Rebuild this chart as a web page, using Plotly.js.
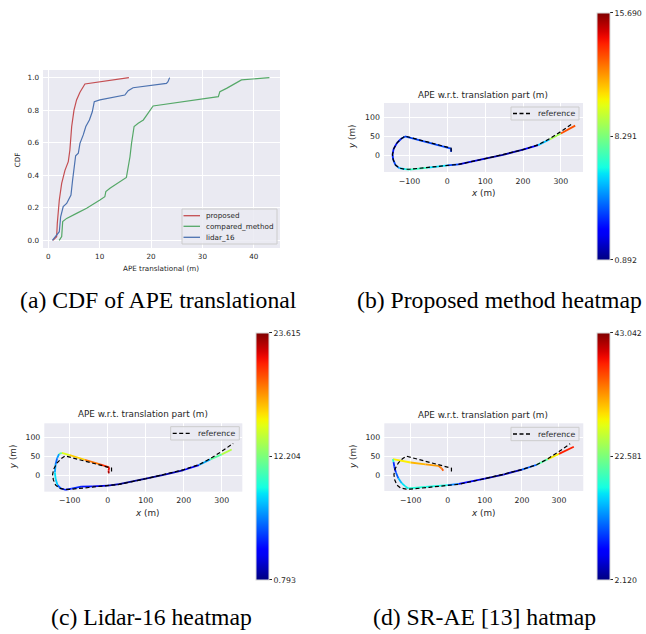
<!DOCTYPE html>
<html>
<head>
<meta charset="utf-8">
<script src="https://cdn.plot.ly/plotly-3.0.1.min.js"></script>
<style>html,body{margin:0;padding:0;background:#fff;}#chart{width:646px;height:634px;}</style>
</head>
<body>
<div id="chart"></div>
<script>
// ---------- (a) CDF data ----------
const cdfProposedX = [0.892,1.62,1.75,2.14,2.6,3.24,3.89,4.2,4.55,5.0,5.5,6.16,7.13,15.69];
const cdfProposedY = [0,0.023,0.105,0.248,0.35,0.43,0.484,0.555,0.70,0.80,0.863,0.91,0.961,1.0];
const cdfComparedX = [2.12,2.6,2.8,3.57,5.5,7.46,10.05,11.0,11.2,12.0,15.2,15.9,16.2,16.7,17.5,18.5,19.4,20.4,32.1,33.1,33.4,34.7,37.6,43.042];
const cdfComparedY = [0,0.023,0.115,0.135,0.166,0.197,0.248,0.268,0.30,0.32,0.387,0.514,0.596,0.70,0.72,0.74,0.78,0.826,0.879,0.883,0.914,0.934,0.986,1.0];
const cdfLidarX = [0.793,1.62,2.14,2.4,2.9,3.57,4.41,4.73,5.0,5.32,5.84,6.16,6.8,7.3,8.0,8.56,8.95,10.05,14.9,15.55,16.5,23.0,23.3,23.615];
const cdfLidarY = [0,0.033,0.053,0.145,0.207,0.227,0.279,0.371,0.453,0.52,0.535,0.596,0.648,0.70,0.74,0.79,0.852,0.863,0.893,0.92,0.938,0.965,0.975,1.0];
const cdfNames = ['proposed','compared_method','lidar_16'];

// ---------- reference trajectory ----------
const refX = [10,10,-112,-122,-133,-142,-145,-143,-137,-127,-112,-100,-50,0,30,100,150,200,240,270,300,330];
const refY = [10,19,51,44,33,17,2,-12,-26,-34,-37,-37,-32,-27,-24,-9,2,15,28,44,63,84];
const refName = 'reference';

// ---------- (b) proposed ----------
const propX = [10,10,-112,-122,-133,-142,-145,-143,-137,-127,-112,-100,-50,0,30,100,150,200,240,270,300,338];
const propY = [9,18,50,44,33,17,2,-12,-26,-34,-37,-38,-33,-27,-24,-9,2,15,27,42,58,79];
const propE = [3.5,3.5,4.0,3.5,3.0,3.0,3.0,3.5,4.0,5.0,6.5,7.0,7.0,5.0,2.5,1.8,0.892,2.0,3.5,7.5,10.5,15.69];
const propTicks = ['0.892','8.291','15.690'];

// ---------- (c) lidar-16 ----------
const lidX = [3,2,4,-20,-60,-100,-121,-128,-133,-137,-139,-137,-132,-124,-112,-95,-70,-40,0,30,100,150,200,240,270,300,326];
const lidY = [5,12,21,29,41,53,59,56,45,30,8,-10,-26,-34,-38,-35,-30,-29,-27,-23,-9,2,14,27,42,55,68];
const lidE = [23.615,22,21,20,17.5,15.5,14.5,9,5.5,6.5,8,9.5,7,4.5,4,4.5,4.5,3.5,2,1.5,0.793,1.5,2,5,10,12.5,15];
const lidTicks = ['0.793','12.204','23.615'];

// ---------- (d) SR-AE ----------
const sraeX = [-12,-16,-25,-60,-100,-148,-146,-144,-140,-133,-124,-115,-106,-60,0,30,100,150,200,240,270,300,340];
const sraeY = [12,18,25,29,34,43,35,23,8,-8,-21,-29,-35,-31,-26,-23,-9,2,15,28,43,57,76];
const sraeE = [36,35,33,32,31,27,10,8,9,13,16,17,17,19,16,9,4,2.12,6,16,25,33,43.042];
const sraeTicks = ['2.120','22.581','43.042'];

const titleText = 'APE w.r.t. translation part (m)';
const captions = ['(a) CDF of APE translational','(b) Proposed method heatmap','(c) Lidar-16 heatmap','(d) SR-AE [13] hatmap'];

// ---------- helpers ----------
const W=646,H=634;
const px=v=>v/W, py=v=>1-v/H;
function interp(t, xs, ys){
  for(let i=0;i<xs.length-1;i++){
    if(t<=xs[i+1]){const f=(t-xs[i])/(xs[i+1]-xs[i]);return ys[i]+f*(ys[i+1]-ys[i]);}
  }
  return ys[ys.length-1];
}
function jet(t){
  t=Math.max(0,Math.min(1,t));
  const r=interp(t,[0,0.35,0.66,0.89,1],[0,0,1,1,0.5]);
  const g=interp(t,[0,0.125,0.375,0.64,0.91,1],[0,0,1,1,0,0]);
  const b=interp(t,[0,0.11,0.34,0.65,1],[0.5,1,1,0,0]);
  return 'rgb('+Math.round(r*255)+','+Math.round(g*255)+','+Math.round(b*255)+')';
}
const jetScale=[];
for(let i=0;i<=40;i++){jetScale.push([i/40,jet(i/40)]);}

const FONT='DejaVu Sans';
const TXT='#262626';
const traces=[];
const cdfColors=['#c44e52','#55a868','#4c72b0'];
[[cdfProposedX,cdfProposedY],[cdfComparedX,cdfComparedY],[cdfLidarX,cdfLidarY]].forEach((d,i)=>{
  traces.push({x:d[0],y:d[1],mode:'lines',name:cdfNames[i],line:{color:cdfColors[i],width:1.2},xaxis:'x',yaxis:'y',showlegend:false,hoverinfo:'skip'});
});

function addHeat(tx,ty,te,ax,ay,cax){
  const mn=Math.min(...te), mx=Math.max(...te);
  for(let i=0;i<tx.length-1;i++){
    const v=((te[i]+te[i+1])/2-mn)/(mx-mn);
    traces.push({x:[tx[i],tx[i+1]],y:[ty[i],ty[i+1]],mode:'lines',line:{color:jet(v),width:1.8},xaxis:ax,yaxis:ay,showlegend:false,hoverinfo:'skip'});
  }
  traces.push({x:refX,y:refY,mode:'lines',name:refName,line:{color:'#000',width:1.2,dash:'4px,2.5px'},xaxis:ax,yaxis:ay,showlegend:false,hoverinfo:'skip'});
  traces.push({x:tx,y:ty,mode:'markers',marker:{color:te,coloraxis:cax,size:1,opacity:0},xaxis:ax,yaxis:ay,showlegend:false,hoverinfo:'skip'});
}
addHeat(propX,propY,propE,'x2','y2','coloraxis');
addHeat(lidX,lidY,lidE,'x3','y3','coloraxis2');
addHeat(sraeX,sraeY,sraeE,'x4','y4','coloraxis3');

function axBase(extra){
  return Object.assign({showgrid:true,gridcolor:'#ffffff',gridwidth:1,zeroline:false,showline:false,ticks:'',
    tickfont:{family:FONT,size:7.8,color:TXT},ticklabelstandoff:3,fixedrange:true},extra);
}
function cbar(vals,txt,x,y){
  return {cmin:vals[0],cmax:vals[1],colorscale:jetScale,colorbar:{
    x:x,xanchor:'left',y:y,yanchor:'middle',len:0.39,lenmode:'fraction',thickness:13,xpad:0,ypad:0,
    outlinewidth:1,outlinecolor:'#d8d8d8',ticks:'outside',ticklen:3,tickcolor:TXT,tickwidth:1,
    tickvals:[vals[0],(vals[0]+vals[1])/2,vals[1]],ticktext:txt,tickfont:{family:FONT,size:7.8,color:TXT}}};
}
function ann(text,x,y,size,angle,font,xa){
  return {text:text,x:x,y:y,xref:'paper',yref:'paper',xanchor:xa||'center',yanchor:'middle',showarrow:false,
    textangle:angle||0,font:{family:font||FONT,size:size,color:font?'#000':TXT}};
}

// legend boxes drawn in pixel layout positions
const shapes=[], annotations=[];
function legendBox(x0,y0,x1,y1){
  shapes.push({type:'rect',xref:'paper',yref:'paper',x0:px(x0),x1:px(x1),y0:py(y1),y1:py(y0),
    fillcolor:'rgba(234,234,242,0.85)',line:{color:'#cccccc',width:1}});
}
function legendItem(lx0,lx1,ly,tx,color,dash,label,size){
  shapes.push({type:'line',xref:'paper',yref:'paper',x0:px(lx0),x1:px(lx1),y0:py(ly),y1:py(ly),
    line:{color:color,width:1.3,dash:dash||'solid'}});
  annotations.push(ann(label,px(tx),py(ly),size,0,null,'left'));
}
legendBox(182,209,277,244);
legendItem(183.5,200,215.7,204,cdfColors[0],null,cdfNames[0],7.2);
legendItem(183.5,200,226.3,204,cdfColors[1],null,cdfNames[1],7.2);
legendItem(183.5,200,237.3,204,cdfColors[2],null,cdfNames[2],7.2);
legendBox(511,107,579,120);
legendItem(513,530,113.5,536,'#000','4px,2.5px',refName,7.8);
legendBox(170.7,426.7,239.3,440);
legendItem(172.7,190,433.3,195.7,'#000','4px,2.5px',refName,7.8);
legendBox(511,427.3,579,440.7);
legendItem(513,530.7,434,536,'#000','4px,2.5px',refName,7.8);

annotations.push(
  ann('CDF',0.0268,0.7476,7.2,-90),
  ann('APE translational (m)',0.2497,0.5768,7.2),
  ann(titleText,0.7477,0.8502,8.8),
  ann('<i>y</i> (m)',0.5449,0.7839,8.8,-90),
  ann('<i>x</i> (m)',0.7477,0.6956,8.8),
  ann(titleText,0.2218,0.347,8.8),
  ann('<i>y</i> (m)',0.0193,0.2797,8.8,-90),
  ann('<i>x</i> (m)',0.2271,0.1904,8.8),
  ann(titleText,0.7481,0.3454,8.8),
  ann('<i>y</i> (m)',0.5464,0.2792,8.8,-90),
  ann('<i>x</i> (m)',0.7481,0.1913,8.8),
  ann(captions[0],px(158),py(300),23.7,0,'Liberation Serif'),
  ann(captions[1],px(499),py(300),23.7,0,'Liberation Serif'),
  ann(captions[2],px(151),py(617),23.7,0,'Liberation Serif'),
  ann(captions[3],px(484),py(617),23.7,0,'Liberation Serif')
);

const layout={
  width:W,height:H,margin:{l:0,r:0,t:0,b:0},paper_bgcolor:'#ffffff',plot_bgcolor:'#EAEAF2',
  showlegend:false,
  xaxis:axBase({domain:[0.0666,0.4334],range:[-1.03,45.1],tickvals:[0,10,20,30,40],anchor:'y',tickfont:{family:FONT,size:7.2,color:TXT}}),
  yaxis:axBase({domain:[0.6088,0.8896],range:[-0.047,1.047],tickvals:[0,0.2,0.4,0.6,0.8,1.0],tickformat:'.1f',anchor:'x',tickfont:{family:FONT,size:7.2,color:TXT}}),
  xaxis2:axBase({domain:[0.5944,0.9025],range:[-167.5,358.6],tickvals:[-100,0,100,200,300],anchor:'y2'}),
  yaxis2:axBase({domain:[0.7287,0.8375],range:[-44.4,139],tickvals:[0,50,100],anchor:'x2'}),
  xaxis3:axBase({domain:[0.0686,0.3751],range:[-166.8,354],tickvals:[-100,0,100,200,300],anchor:'y3'}),
  yaxis3:axBase({domain:[0.2245,0.3323],range:[-43,136.8],tickvals:[0,50,100],anchor:'x3'}),
  xaxis4:axBase({domain:[0.5949,0.9029],range:[-171,365.5],tickvals:[-100,0,100,200,300],anchor:'y4'}),
  yaxis4:axBase({domain:[0.2256,0.3323],range:[-41.8,138.3],tickvals:[0,50,100],anchor:'x4'}),
  coloraxis:cbar([Math.min(...propE),Math.max(...propE)],propTicks,0.9237,0.7849),
  coloraxis2:cbar([Math.min(...lidE),Math.max(...lidE)],lidTicks,0.3963,0.2802),
  coloraxis3:cbar([Math.min(...sraeE),Math.max(...sraeE)],sraeTicks,0.9237,0.2802),
  shapes:shapes,
  annotations:annotations
};
Plotly.newPlot('chart',traces,layout,{staticPlot:true,displayModeBar:false});
</script>
</body>
</html>
